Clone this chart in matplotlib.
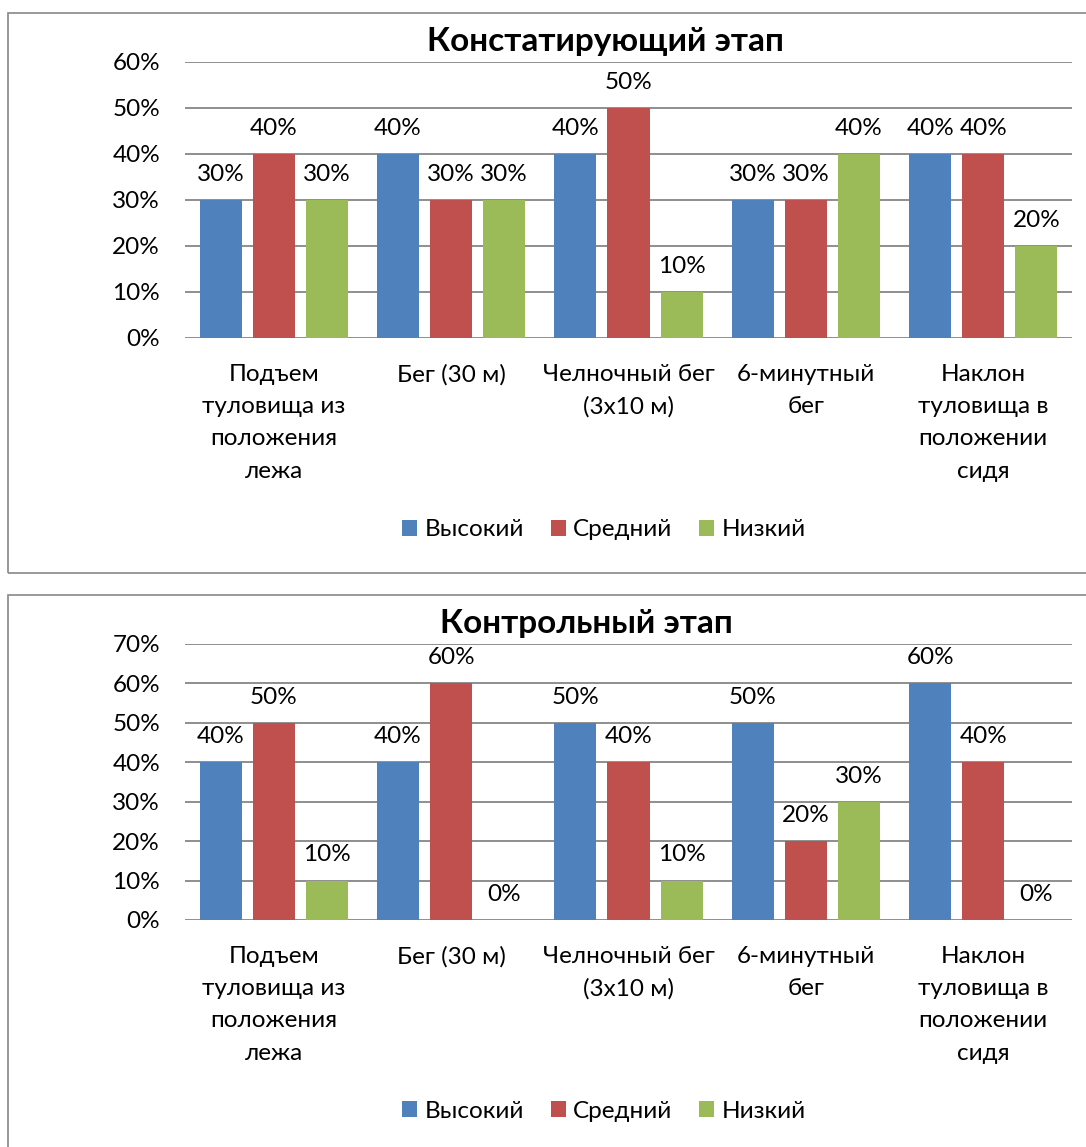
import matplotlib
matplotlib.use("Agg")
import matplotlib.pyplot as plt
from matplotlib.patches import Rectangle, Patch
from matplotlib.ticker import FuncFormatter
import numpy as np

plt.rcParams['font.family'] = ['Lato', 'Noto Sans', 'DejaVu Sans']

categories = [
    "Подъем\nтуловища из\nположения\nлежа",
    "Бег (30 м)",
    "Челночный бег\n(3х10 м)",
    "6-минутный\nбег",
    "Наклон\nтуловища в\nположении\nсидя",
]
series_names = ["Высокий", "Средний", "Низкий"]
colors = ["#4F81BD", "#C0504D", "#9BBB59"]

title_1 = "Констатирующий этап"
high_1 = [30, 40, 40, 30, 40]
mid_1 = [40, 30, 50, 30, 40]
low_1 = [30, 30, 10, 40, 20]

title_2 = "Контрольный этап"
high_2 = [40, 40, 50, 50, 60]
mid_2 = [50, 60, 40, 20, 40]
low_2 = [10, 0, 10, 30, 0]

W, H = 1086, 1147
fig = plt.figure(figsize=(W / 100, H / 100), dpi=100)

grid_c = "#868686"
FS = 17.5


def fx(px):
    return px / W


def fy(py):
    return 1 - py / H


# chart boxes
for top, bot in [(13, 573), (595, 1160)]:
    fig.patches.append(Rectangle((fx(8), fy(bot)), fx(1200 - 8), fy(top) - fy(bot),
                                 transform=fig.transFigure, fill=False,
                                 edgecolor="#888888", linewidth=1.2))


def draw(ax_top, ax_bot, ymax, data, title, title_x, legend_y):
    ax = fig.add_axes([fx(185), fy(ax_bot), fx(1072 - 185), fy(ax_top) - fy(ax_bot)])
    x = np.arange(len(categories))
    bw = 0.237
    step = 0.299
    for i, (vals, c) in enumerate(zip(data, colors)):
        xs = x + (i - 1) * step
        ax.bar(xs, vals, width=bw, color=c, zorder=3)
        for xi, v in zip(xs, vals):
            ax.annotate(f"{v}%", (xi, v), xytext=(0, 18.5), textcoords="offset points",
                        ha="center", va="center", fontsize=FS, color="black", zorder=4)
    ax.set_xlim(-0.5, len(categories) - 0.5)
    ax.set_ylim(0, ymax)
    ax.set_yticks(np.arange(0, ymax + 1, 10))
    ax.yaxis.set_major_formatter(FuncFormatter(lambda v, p: f"{int(v)}%"))
    ax.grid(axis="y", color=grid_c, linewidth=1.3, zorder=0)
    for s in ax.spines.values():
        s.set_visible(False)
    ax.tick_params(axis="y", length=0, pad=18, labelsize=FS)
    ax.tick_params(axis="x", length=0, pad=18.5, labelsize=FS)
    ax.set_xticks(x)
    ax.set_xticklabels(categories, linespacing=1.67, va="top")
    fig.text(fx(title_x), fy(ax_top - 20), title, ha="center", va="center",
             fontsize=24, fontweight="bold")
    handles = [Patch(facecolor=c, edgecolor="none") for c in colors]
    fig.legend(handles, series_names, loc="center", bbox_to_anchor=(fx(604), fy(legend_y)),
               ncol=3, frameon=False, fontsize=FS, handlelength=0.62, handleheight=0.62,
               handletextpad=0.3, columnspacing=1.1)
    return ax


draw(62, 338, 60, [high_1, mid_1, low_1], title_1, 605, 530)
draw(644, 920, 70, [high_2, mid_2, low_2], title_2, 586, 1111)

fig.savefig("out.png", dpi=100)
